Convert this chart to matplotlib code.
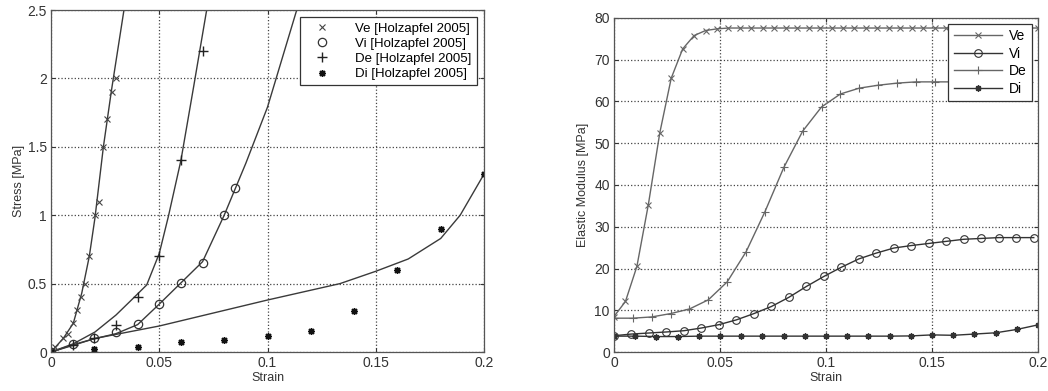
import numpy as np
import matplotlib
matplotlib.use('Agg')
import matplotlib.pyplot as plt
from matplotlib.ticker import FuncFormatter

plt.rcParams['font.family'] = ['Liberation Sans', 'DejaVu Sans']
plt.rcParams['font.size'] = 8.5

# ---- left panel: Holzapfel 2005 data points ----
ve_pts_x = [0.002, 0.0057, 0.008, 0.0103, 0.0122, 0.0137, 0.0157, 0.0177, 0.0203,
            0.022, 0.0242, 0.0257, 0.028, 0.030]
ve_pts_y = [0.04, 0.10, 0.13, 0.21, 0.31, 0.40, 0.50, 0.70, 1.00, 1.10, 1.50, 1.70, 1.90, 2.00]
vi_pts_x = [0.0, 0.01, 0.02, 0.03, 0.04, 0.05, 0.06, 0.07, 0.08, 0.085]
vi_pts_y = [0.0, 0.06, 0.105, 0.146, 0.205, 0.35, 0.505, 0.65, 1.00, 1.20]
de_pts_x = [0.0, 0.01, 0.02, 0.03, 0.04, 0.05, 0.06, 0.07]
de_pts_y = [0.0, 0.05, 0.10, 0.20, 0.40, 0.70, 1.40, 2.20]
di_pts_x = [0.0, 0.02, 0.04, 0.06, 0.08, 0.10, 0.12, 0.14, 0.16, 0.18, 0.20]
di_pts_y = [0.0, 0.02, 0.04, 0.073, 0.09, 0.12, 0.15, 0.30, 0.60, 0.90, 1.30]

# ---- left panel: model curves ----
ve_fit_x = [0, 0.0057, 0.0103, 0.0142, 0.0177, 0.0203, 0.0242, 0.028, 0.0337]
ve_fit_y = [0, 0.10, 0.21, 0.43, 0.70, 0.98, 1.50, 1.92, 2.50]
de_fit_x = [0, 0.0103, 0.0203, 0.030, 0.0365, 0.0442, 0.050, 0.0542, 0.060, 0.066, 0.0719]
de_fit_y = [0, 0.06, 0.146, 0.27, 0.37, 0.49, 0.72, 0.99, 1.40, 1.95, 2.50]
vi_fit_x = [0, 0.0103, 0.0203, 0.03, 0.04, 0.05, 0.06, 0.07, 0.08, 0.09, 0.1, 0.1135]
vi_fit_y = [0, 0.054, 0.098, 0.134, 0.2, 0.35, 0.505, 0.66, 1.0, 1.38, 1.79, 2.5]
di_fit_x = [0, 0.0103, 0.02, 0.05, 0.1, 0.1335, 0.15, 0.165, 0.18, 0.189, 0.2]
di_fit_y = [0, 0.049, 0.098, 0.19, 0.38, 0.50, 0.59, 0.68, 0.83, 1.0, 1.30]

# ---- right panel: elastic modulus ----
ve_mod_x = [i * 0.0054 for i in range(38)]
ve_mod_y = [8.5, 12.1, 20.5, 35.3, 52.5, 65.6, 72.6, 75.8, 77.0, 77.4] + [77.6] * 28
vi_mod_x = [i * 0.00825 for i in range(25)]
vi_mod_y = [3.9, 4.3, 4.55, 4.8, 5.1, 5.75, 6.55, 7.7, 9.2, 10.9, 13.1, 15.7, 18.1,
            20.3, 22.3, 23.7, 24.9, 25.5, 26.0, 26.5, 27.0, 27.2, 27.4, 27.4, 27.4]
de_mod_x = [i * 0.0089 for i in range(23)]
de_mod_y = [8.1, 8.1, 8.4, 9.2, 10.3, 12.5, 16.8, 24.0, 33.6, 44.2, 52.9, 58.7,
            61.8, 63.2, 63.9, 64.4, 64.7, 64.7, 64.7, 64.7, 64.7, 64.7, 64.7]
di_mod_x = [i * 0.01 for i in range(21)]
di_mod_y = [3.8, 3.8, 3.7, 3.7, 3.8, 3.8, 3.8, 3.8, 3.8, 3.8, 3.8, 3.8, 3.8, 3.8,
            3.85, 4.1, 4.0, 4.3, 4.6, 5.4, 6.5]

fig = plt.figure(figsize=(10.48, 3.91), dpi=100)
ax1 = fig.add_axes([51/1048, 39/391, 433/1048, 342/391])
ax2 = fig.add_axes([614/1048, 39/391, 424/1048, 334/391])

fmt = FuncFormatter(lambda v, p: '%g' % round(v, 6))
lc = '#3a3a3a'
star = (8, 2, 0)   # matlab-like asterisk

# left
ax1.plot(ve_fit_x, ve_fit_y, color=lc, lw=1.0)
ax1.plot(de_fit_x, de_fit_y, color=lc, lw=1.0)
ax1.plot(vi_fit_x, vi_fit_y, color=lc, lw=1.0)
ax1.plot(di_fit_x, di_fit_y, color=lc, lw=1.0)
ax1.plot(ve_pts_x, ve_pts_y, ls='none', marker='x', ms=5, mew=0.8, color='#444',
         label='Ve [Holzapfel 2005]')
ax1.plot(vi_pts_x, vi_pts_y, ls='none', marker='o', ms=6, mew=0.9, mfc='none', color='#333',
         label='Vi [Holzapfel 2005]')
ax1.plot(de_pts_x, de_pts_y, ls='none', marker='+', ms=7, mew=1.0, color='#222',
         label='De [Holzapfel 2005]')
ax1.plot(di_pts_x, di_pts_y, ls='none', marker=star, ms=5, mew=1.0, color='#111',
         label='Di [Holzapfel 2005]')
ax1.set_xlim(0, 0.2)
ax1.set_ylim(0, 2.5)
ax1.set_xticks([0, 0.05, 0.1, 0.15, 0.2])
ax1.set_yticks([0, 0.5, 1, 1.5, 2, 2.5])
ax1.set_xlabel('Strain', labelpad=1)
ax1.set_ylabel('Stress [MPa]', labelpad=2)
leg1 = ax1.legend(loc='upper right', fancybox=False, edgecolor='#333', framealpha=1,
                  borderaxespad=0.55, handletextpad=1.2, labelspacing=0.22,
                  handlelength=2.6, borderpad=0.4, fontsize=9.5)
leg1.get_frame().set_linewidth(0.9)

# right
ax2.plot(ve_mod_x, ve_mod_y, color='#666', lw=1.0, marker='x', ms=4, mew=0.8, label='Ve')
ax2.plot(vi_mod_x, vi_mod_y, color='#333', lw=1.0, marker='o', ms=5.5, mew=0.8, mfc='none',
         label='Vi')
ax2.plot(de_mod_x, de_mod_y, color='#666', lw=1.0, marker='+', ms=6, mew=0.8, label='De')
ax2.plot(di_mod_x, di_mod_y, color='#333', lw=1.0, marker=star, ms=4.5, mew=1.0, label='Di')
ax2.set_xlim(0, 0.2)
ax2.set_ylim(0, 80)
ax2.set_xticks([0, 0.05, 0.1, 0.15, 0.2])
ax2.set_yticks(range(0, 81, 10))
ax2.set_xlabel('Strain', labelpad=1)
ax2.set_ylabel('Elastic Modulus [MPa]', labelpad=4)
leg2 = ax2.legend(loc='upper right', fancybox=False, edgecolor='#333', framealpha=1,
                  borderaxespad=0.4, handletextpad=0.5, labelspacing=0.25,
                  handlelength=3.5, fontsize=10)
leg2.get_frame().set_linewidth(0.9)

for ax in (ax1, ax2):
    ax.xaxis.set_major_formatter(fmt)
    ax.yaxis.set_major_formatter(fmt)
    ax.grid(True, ls=':', color='#444', lw=0.9)
    ax.tick_params(direction='in', top=True, right=True, length=3, colors='#333',
                   labelsize=10, pad=3)
    for s in ax.spines.values():
        s.set_color('#555')
        s.set_linewidth(0.9)
    ax.xaxis.label.set_color('#333')
    ax.yaxis.label.set_color('#333')
    ax.xaxis.label.set_size(9)
    ax.yaxis.label.set_size(9)

fig.savefig('out.png', dpi=100)
